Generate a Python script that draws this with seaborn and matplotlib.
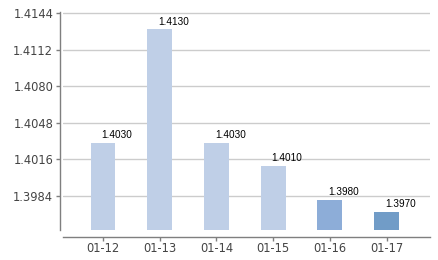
import matplotlib
matplotlib.use("Agg")
import matplotlib.pyplot as plt
import seaborn as sns
import pandas as pd

categories = ["01-12", "01-13", "01-14", "01-15", "01-16", "01-17"]
values = [1.4030, 1.4130, 1.4030, 1.4010, 1.3980, 1.3970]
bar_colors = ["#BFCFE7", "#BFCFE7", "#BFCFE7", "#BFCFE7", "#8DADD8", "#719CC7"]
y_ticks = [1.3984, 1.4016, 1.4048, 1.4080, 1.4112, 1.4144]

sns.set_theme(style="white")
plt.rcParams['font.family'] = ['DejaVu Sans']

df = pd.DataFrame({"date": categories, "value": values})

fig = plt.figure(figsize=(4.38, 2.60), dpi=100)
ax = fig.add_axes([63/438, 30/260, (430-63)/438, (230-12)/260])

ax.set_axisbelow(True)
for t in y_ticks:
    ax.axhline(t, color="#CCCCCC", linewidth=1, zorder=0)

sns.barplot(data=df, x="date", y="value", hue="date",
            palette=dict(zip(categories, bar_colors)), width=0.44,
            legend=False, ax=ax, saturation=1, zorder=2, linewidth=0)

ax.set_ylim(1.39538, 1.41453)
ax.set_xlim(-0.705, 5.767)
ax.set_yticks(y_ticks)
ax.set_yticklabels([f"{t:.4f}" for t in y_ticks])
ax.set_xlabel("")
ax.set_ylabel("")

for i, v in enumerate(values):
    ax.annotate(f"{v:.4f}", (i, v), xytext=(-1, 2), textcoords="offset points",
                ha="left", va="bottom", fontsize=7.2, color="#000000",
                family=["Liberation Sans Narrow", "Liberation Sans", "DejaVu Sans"])

for s in ["top", "right"]:
    ax.spines[s].set_visible(False)
ax.spines["left"].set_position(("outward", 2))
ax.spines["bottom"].set_position(("outward", 5))
ax.spines["left"].set_color("#7F7F7F")
ax.spines["bottom"].set_color("#7F7F7F")
ax.spines["left"].set_linewidth(1)
ax.spines["bottom"].set_linewidth(1)

ax.tick_params(axis="both", which="both", length=3, width=1, color="#7F7F7F",
               labelsize=8.3, labelcolor="#444444", direction="out", pad=2,
               bottom=True, left=True)
ax.tick_params(axis="x", pad=1)

fig.savefig("out.png", dpi=100)
